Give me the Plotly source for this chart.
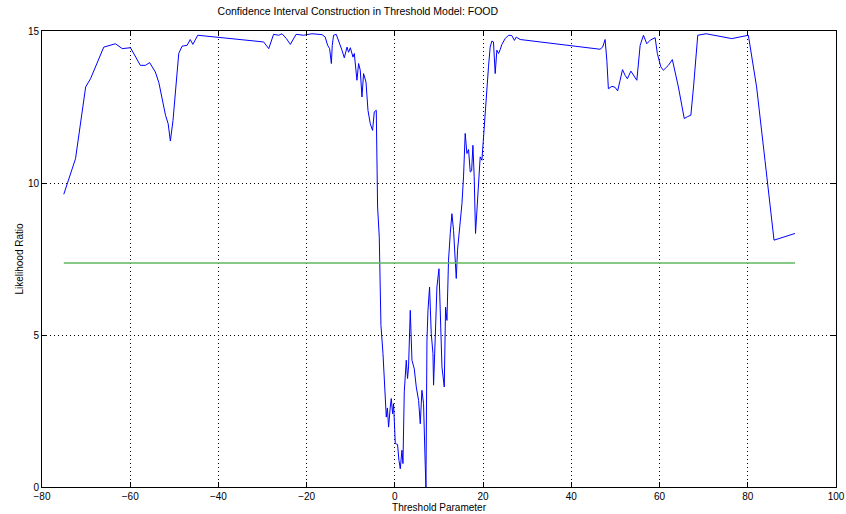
import plotly.graph_objects as go

# Likelihood ratio curve (threshold parameter vs LR)
threshold = [
    -75.06, -72.4, -70.1, -69.0, -66.0, -63.35, -61.8, -59.95, -57.7, -56.55, -55.6, -54.3,
    -53.5, -52.0, -51.4, -50.9, -50.3, -49.0, -48.25, -47.1, -46.4, -45.8, -44.7, -43.35,
    -39.9, -29.75, -28.6, -27.5, -26.35, -25.6, -24.6, -23.7, -22.4, -20.7, -18.8, -16.5,
    -15.8, -15.25, -14.8, -14.4, -14.2, -13.9, -13.3, -12.75, -12.0, -11.47, -10.85, -10.5,
    -10.1, -9.5, -9.2, -8.6, -8.23, -7.85, -7.46, -7.1, -6.55, -6.1, -5.58, -5.06, -4.67,
    -4.22, -3.92, -3.54, -3.31, -3.16, -2.7, -2.4, -2.18, -1.95, -1.7, -1.43, -1.05, -0.82,
    -0.52, -0.3, 0.09, 0.6, 0.92, 1.22, 1.6, 1.83, 2.13, 2.58, 2.87, 3.1, 3.49, 3.87, 4.39,
    4.85, 5.37, 5.75, 6.13, 6.5, 6.88, 7.04, 7.27, 7.5, 7.86, 8.24, 8.63, 8.77, 9.15, 9.53,
    9.99, 10.28, 10.67, 11.19, 11.49, 11.8, 12.16, 12.55, 12.93, 13.3, 13.68, 13.91, 14.2,
    14.65, 15.2, 15.56, 15.94, 16.33, 16.7, 17.08, 17.4, 17.69, 17.98, 18.28, 18.6, 18.96,
    19.34, 19.73, 20.09, 20.47, 20.86, 21.22, 21.6, 21.99, 22.35, 22.74, 23.12, 23.5, 23.9,
    24.26, 25.0, 25.75, 26.5, 27.1, 27.5, 28.4, 46.5, 47.1, 47.65, 48.05, 48.4, 49.2, 49.9,
    50.5, 51.06, 51.6, 52.2, 52.7, 53.5, 54.1, 54.85, 55.6, 56.35, 57.1, 57.9, 59.0, 59.5,
    60.28, 60.87, 62.0, 62.9, 64.27, 65.6, 66.3, 67.1, 67.7, 68.66, 70.54, 76.37, 80.13,
    80.5, 82.0, 83.9, 85.95, 90.7,
]
likelihood_ratio = [
    9.63, 10.8, 13.16, 13.43, 14.47, 14.58, 14.42, 14.45, 13.87, 13.87, 13.96, 13.65,
    13.3, 12.23, 11.95, 11.38, 12.06, 14.26, 14.5, 14.53, 14.72, 14.56, 14.86, 14.84,
    14.78, 14.64, 14.42, 14.89, 14.86, 14.91, 14.75, 14.56, 14.89, 14.86, 14.91, 14.88,
    14.8, 14.53, 14.42, 13.93, 14.53, 14.86, 14.89, 14.69, 14.37, 14.12, 14.47, 14.3,
    14.45, 14.14, 14.26, 13.38, 13.93, 13.71, 12.83, 13.6, 13.32, 12.39, 11.95, 11.73, 12.34,
    12.39, 9.21, 8.22, 5.92, 5.32, 4.39, 3.51, 2.63, 2.3, 2.6, 1.97, 2.63, 2.91,
    2.41, 2.74, 1.43, 1.4, 0.88, 0.6, 1.21, 0.77, 3.13, 4.17, 3.57, 3.95, 5.81, 4.17, 3.89,
    3.29, 2.85, 2.08, 3.18, 2.74, 0.71, 0.0, 4.83, 5.81, 6.58, 5.05, 4.39, 3.35, 4.93, 6.58,
    7.18, 5.37, 3.95, 3.29, 5.92, 5.48, 7.46, 8.34, 8.99, 8.44, 7.24, 6.86, 7.79,
    8.44, 9.32, 10.2, 11.63, 10.97, 11.1, 10.36, 10.4, 11.24, 10.2, 8.34, 9.21, 9.87,
    10.86, 10.75, 11.51, 12.39, 13.27, 13.82, 14.47, 14.67, 14.64, 13.6, 14.37, 14.26, 14.4,
    14.56, 14.75, 14.86, 14.85, 14.69, 14.8, 14.72, 14.4, 14.47, 14.72, 14.04, 13.1, 13.18, 13.15,
    13.03, 13.38, 13.73, 13.54, 13.43, 13.68, 13.54, 13.38, 14.53, 14.86, 14.58, 14.7, 14.78, 14.26,
    13.82, 13.71, 13.87, 14.06, 13.16, 12.12, 12.18, 12.23, 13.16, 14.86, 14.91, 14.75, 14.86,
    14.5, 13.16, 10.75, 8.12, 8.34,
]

critical_x = [-75.06, 90.7]
critical_value = [7.37, 7.37]

x_ticks = [-80, -60, -40, -20, 0, 20, 40, 60, 80, 100]
y_ticks = [0, 5, 10, 15]

font = dict(family="Liberation Sans, Arial, sans-serif", size=10, color="black")

fig = go.Figure()
fig.add_trace(go.Scatter(x=threshold, y=likelihood_ratio, mode="lines",
                         line=dict(color="#0000ff", width=1), showlegend=False))
fig.add_trace(go.Scatter(x=critical_x, y=critical_value, mode="lines",
                         line=dict(color="rgb(95,185,95)", width=1.5), showlegend=False))

axis_common = dict(showline=True, linecolor="black", linewidth=1, mirror="ticks",
                   ticks="inside", ticklen=5, tickcolor="black", automargin=False,
                   showgrid=True, gridcolor="black", griddash="1px,3px", gridwidth=1,
                   zeroline=False, tickfont=font)

fig.update_xaxes(range=[-80, 100], tickvals=x_ticks,
                 title=dict(text="Threshold Parameter", font=font, standoff=2), **axis_common)
fig.update_yaxes(range=[0, 15], tickvals=y_ticks,
                 title=dict(text="Likelihood Ratio", font=font, standoff=2), **axis_common)

fig.update_layout(
    width=846, height=514,
    margin=dict(l=42, r=10, t=31, b=27, autoexpand=False),
    paper_bgcolor="white", plot_bgcolor="white",
    font=font,
    title=dict(text="Confidence Interval Construction in Threshold Model: FOOD",
               x=0.423, xanchor="center", y=0.9785, yanchor="middle", automargin=False,
               font=dict(family="Liberation Sans, Arial, sans-serif", size=10.5, color="black")),
)

# remove the page's default body margin so the figure fills the window exactly
fig.write_html("out.html",
               config={"displayModeBar": False, "staticPlot": True},
               post_script="document.body.style.margin='0';document.body.style.overflow='hidden';")
